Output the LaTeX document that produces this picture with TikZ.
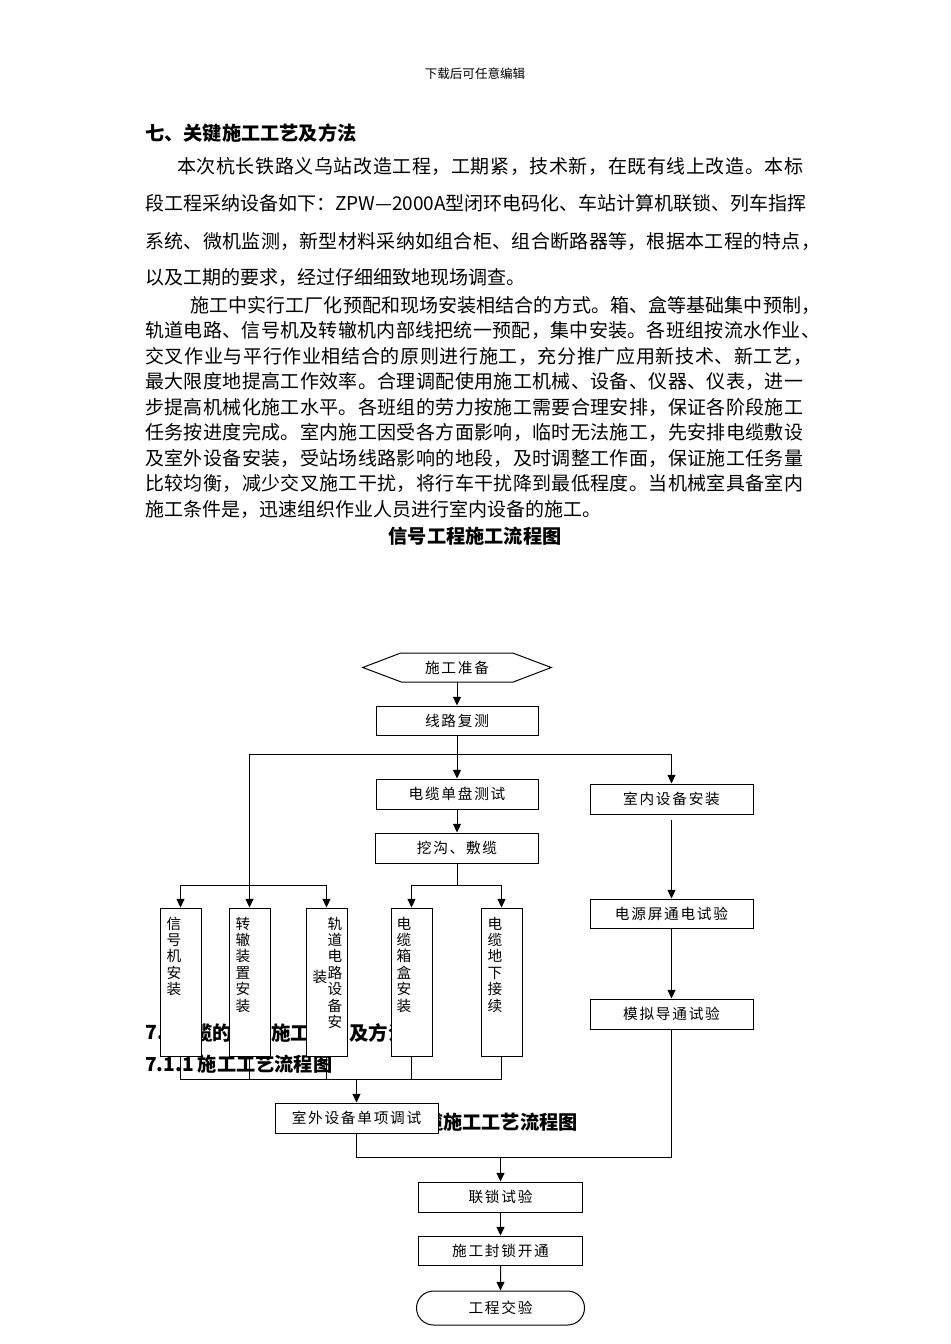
\documentclass[tikz,border=0pt]{standalone}
\usepackage{fontspec}
\setmainfont{Noto Sans CJK SC}
\usetikzlibrary{arrows.meta,shapes.misc}
\def\spreadend{\spreadend}
\def\spfirst#1{#1\sprest}
\def\sprest#1{\ifx#1\spreadend\else\hfil#1\expandafter\sprest\fi}
\newcommand\jline[2]{\hbox to #1{\spfirst#2\spreadend}}
\def\lsfirst#1{#1\lsrest}
\def\lsrest#1{\ifx#1\spreadend\else\kern1.3pt#1\expandafter\lsrest\fi}
\newcommand\ls[1]{\lsfirst#1\spreadend}
\newcommand\zpwtext{ZPW—2000A}
\newcommand\bodyfont{\fontsize{14.25pt}{16pt}\selectfont}
\newcommand\headfont{\fontsize{14.4pt}{16pt}\selectfont\bfseries}
\newcommand\secfont{\fontsize{14.6pt}{16pt}\selectfont\bfseries}
\newcommand\boxfont{\fontsize{11pt}{12.3pt}\selectfont}
\begin{document}
\begin{tikzpicture}[x=0.75pt,y=-0.75pt,
  every node/.style={inner sep=0pt},
  box/.style={draw, fill=white, line width=0.75pt, font=\boxfont},
  vbox/.style={draw, fill=white, line width=0.75pt, minimum width=30.75pt, minimum height=111pt},
  vtext/.style={font=\boxfont, align=center, anchor=north},
  body/.style={anchor=west, font=\bodyfont},
  head/.style={anchor=west, font=\headfont},
  sec/.style={anchor=west, font=\secfont},
  arr/.style={line width=0.75pt, -{Triangle[length=6.5pt,width=6pt]}},
  conn/.style={line width=0.75pt}]
\path[use as bounding box, fill=white] (0,0) rectangle (950,1344);

% ---------- page text ----------
\node[font=\fontsize{9.4pt}{10pt}\selectfont] (hdr) at (475,74) {下载后可任意编辑};
\node[head] (h7) at (145,133) {七、关键施工工艺及方法};
\node[body] (p1a) at (177,166) {\jline{469.5pt}{本次杭长铁路义乌站改造工程，工期紧，技术新，在既有线上改造。本标}};
\node[body] (p1b) at (145,203) {\jline{493.5pt}{段工程采纳设备如下：\zpwtext 型闭环电码化、车站计算机联锁、列车指挥}};
\node[body] (p1c) at (145,241) {\jline{506.25pt}{系统、微机监测，新型材料采纳如组合柜、组合断路器等，根据本工程的特点，}};
\node[body] (p1d) at (145,277) {以及工期的要求，经过仔细细致地现场调查。};
\node[body] (p2a) at (190,305) {\jline{472.5pt}{施工中实行工厂化预配和现场安装相结合的方式。箱、盒等基础集中预制，}};
\node[body] (p2b) at (145,330.5) {\jline{506.25pt}{轨道电路、信号机及转辙机内部线把统一预配，集中安装。各班组按流水作业、}};
\node[body] (p2c) at (145,356) {\jline{500.25pt}{交叉作业与平行作业相结合的原则进行施工，充分推广应用新技术、新工艺，}};
\node[body] (p2d) at (145,381.5) {\jline{493.5pt}{最大限度地提高工作效率。合理调配使用施工机械、设备、仪器、仪表，进一}};
\node[body] (p2e) at (145,407) {\jline{493.5pt}{步提高机械化施工水平。各班组的劳力按施工需要合理安排，保证各阶段施工}};
\node[body] (p2f) at (145,432.5) {\jline{493.5pt}{任务按进度完成。室内施工因受各方面影响，临时无法施工，先安排电缆敷设}};
\node[body] (p2g) at (145,458) {\jline{493.5pt}{及室外设备安装，受站场线路影响的地段，及时调整工作面，保证施工任务量}};
\node[body] (p2h) at (145,483.5) {\jline{493.5pt}{比较均衡，减少交叉施工干扰，将行车干扰降到最低程度。当机械室具备室内}};
\node[body] (p2i) at (145,509) {施工条件是，迅速组织作业人员进行室内设备的施工。};
\node[font=\headfont] (title) at (475,536) {信号工程施工流程图};

% headings partly hidden behind the flowchart
\node[sec] (s71a) at (145,1033) {7.1};
\node[sec] (s71b) at (173.5,1033) {电缆的敷设施工};
\node[sec] (s71c) at (349,1033) {及方法};
\node[head] (s711) at (145,1064) {7.1.1\kern3pt 施工工艺流程图};
\node[font=\headfont, anchor=east] (s712) at (578,1122) {缆施工工艺流程图};

% ---------- flowchart boxes ----------
\node[font=\boxfont, minimum width=141pt, minimum height=21.75pt] (prep) at (457,667.5) {\ls{施工准备}};
\draw[conn] (prep.west) -- ++(38,-14.5) -- ++(112,0) -- (prep.east) -- ++(-38,14.5) -- ++(-112,0) -- cycle;
\node[box, minimum width=121.5pt, minimum height=21.75pt] (fl) at (457,720.5) {\ls{线路复测}};
\node[box, minimum width=121.5pt, minimum height=22.5pt] (dl) at (457,794) {\ls{电缆单盘测试}};
\node[box, minimum width=122.25pt, minimum height=22.5pt] (wg) at (457,848) {\ls{挖沟、敷缆}};
\node[box, minimum width=122.25pt, minimum height=22.5pt] (snaz) at (671.5,799) {\ls{室内设备安装}};
\node[box, minimum width=122.25pt, minimum height=21.75pt] (dy) at (671.5,913.5) {\ls{电源屏通电试验}};
\node[box, minimum width=122.25pt, minimum height=22.5pt] (mn) at (671.5,1014) {\ls{模拟导通试验}};

\node[vbox] (b1) at (180.5,982) {};
\node[vbox] (b2) at (249.5,982) {};
\node[vbox] (b3) at (326.5,982) {};
\node[vbox] (b4) at (411.5,982) {};
\node[vbox] (b5) at (501.5,982) {};
\node[vtext] (t1) at (174,916.5) {信\\号\\机\\安\\装};
\node[vtext] (t2) at (243,916.5) {转\\辙\\装\\置\\安\\装};
\node[vtext] (t3) at (335,916.5) {轨\\道\\电\\路\\设\\备\\安};
\node[vtext] (t3b) at (320,969.5) {装};
\node[vtext] (t4) at (404,916.5) {电\\缆\\箱\\盒\\安\\装};
\node[vtext] (t5) at (495,916.5) {电\\缆\\地\\下\\接\\续};

\node[box, minimum width=122.25pt, minimum height=22.5pt] (sw) at (356.5,1118) {\ls{室外设备单项调试}};
\node[box, minimum width=123pt, minimum height=22.5pt] (ls) at (500.5,1197) {\ls{联锁试验}};
\node[box, minimum width=123pt, minimum height=21.75pt] (sg) at (500.5,1250.5) {\ls{施工封锁开通}};
\node[draw, fill=white, line width=0.75pt, rounded rectangle, font=\boxfont, minimum width=126pt, minimum height=25.5pt] (jy) at (500.5,1308) {\ls{工程交验}};

% ---------- connectors ----------
\coordinate (j1) at (457,754);
\coordinate (j2) at (457,885);
\coordinate (tl) at (180.5,885);
\coordinate (tr) at (326.5,885);
\coordinate (k) at (357,1079);
\coordinate (m) at (500.5,1157);

\draw[arr] (prep) -- (fl);
\draw[conn] (fl) -- (j1);
\draw[arr] (j1) -- (dl);
\draw[arr] (j1) -| (snaz);
\draw[arr] (j1) -| (b2);
\draw[arr] (dl) -- (wg);
\draw[conn] (wg) -- (j2);
\draw[arr] (j2) -| (b4);
\draw[arr] (j2) -| (b5);
\draw[conn] (tl) -- (tr);
\draw[arr] (tl) -- (b1);
\draw[arr] (tr) -- (b3);

\draw[conn] (b1) -- (b1 |- k) -- (b5 |- k) -- (b5);
\draw[conn] (b2) -- (b2 |- k);
\draw[conn] (b3) -- (b3 |- k);
\draw[conn] (b4) -- (b4 |- k);
\draw[arr] (sw |- k) -- (sw);

\draw[arr, shorten <=4pt] (snaz) -- (dy);
\draw[arr] (dy) -- (mn);
\draw[conn] (sw) -- (sw |- m) -- (mn |- m) -- (mn);
\draw[arr] (m) -- (ls);
\draw[arr] (ls) -- (sg);
\draw[arr] (sg) -- (jy);
\end{tikzpicture}
\end{document}
